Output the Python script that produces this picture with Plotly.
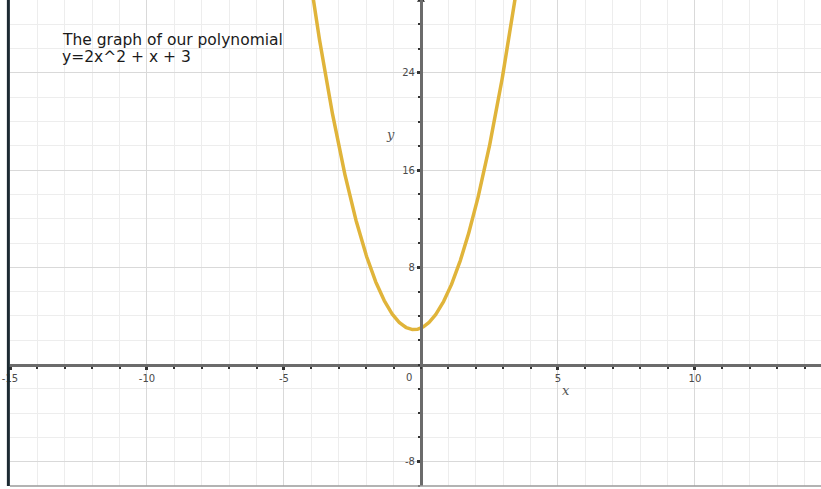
import numpy as np
import plotly.graph_objects as go

# Polynomial y = 2x^2 + x + 3, coefficients from highest power down
coefficients = [2, 1, 3]

x_range = [-15.0, 14.6]
y_range = [-10.0, 30.0]

x_tick_values = [-15, -10, -5, 5, 10]
x_tick_labels = ["-15", "-10", "-5", "5", "10"]
y_tick_values = [-8, 8, 16, 24]
y_tick_labels = ["-8", "8", "16", "24"]

title_lines = ["The graph of our polynomial", "y=2x^2 + x + 3"]

# Sample the curve only where it stays inside the visible range
xs = np.linspace(-4.2, 3.7, 600)
ys = np.polyval(coefficients, xs)

curve_color = "#E0B43A"
axis_color = "#6b6b6b"
label_color = "#4a4a4a"

fig = go.Figure()
fig.add_trace(go.Scatter(
    x=xs, y=ys, mode="lines",
    line=dict(color=curve_color, width=3.5),
    hoverinfo="skip", showlegend=False,
))

# Arrow head at the top of the y axis
fig.add_trace(go.Scatter(
    x=[0], y=[y_range[1]], mode="markers",
    marker=dict(symbol="triangle-up", size=7, color="#222222"),
    cliponaxis=False, hoverinfo="skip", showlegend=False,
))

x_pos = (0 - y_range[0]) / (y_range[1] - y_range[0])
y_pos = (0 - x_range[0]) / (x_range[1] - x_range[0])

fig.update_layout(
    width=821, height=489,
    margin=dict(l=10, r=0, t=0, b=3),
    paper_bgcolor="white", plot_bgcolor="white",
    font=dict(family="DejaVu Sans", color=label_color, size=10),
    xaxis=dict(
        range=x_range, anchor="free", position=x_pos,
        tickvals=x_tick_values, ticktext=x_tick_labels,
        showgrid=True, gridcolor="#d9d9d9", gridwidth=1,
        zeroline=False,
        showline=True, linecolor=axis_color, linewidth=3,
        ticks="outside", ticklen=3, tickwidth=3, tickcolor="#333333",
        tickfont=dict(size=10, color=label_color),
        minor=dict(dtick=1, tick0=0, showgrid=True, gridcolor="#ededed",
                   ticks="outside", ticklen=2, tickwidth=2, tickcolor="#333333"),
        fixedrange=True,
    ),
    yaxis=dict(
        range=y_range, anchor="free", position=y_pos,
        tickvals=y_tick_values, ticktext=y_tick_labels,
        showgrid=True, gridcolor="#d9d9d9", gridwidth=1,
        zeroline=False,
        showline=True, linecolor=axis_color, linewidth=3,
        ticks="outside", ticklen=3, tickwidth=3, tickcolor="#333333",
        tickfont=dict(size=10, color=label_color),
        minor=dict(dtick=2, tick0=0, showgrid=True, gridcolor="#ededed",
                   ticks="outside", ticklen=2, tickwidth=2, tickcolor="#333333"),
        fixedrange=True,
    ),
    shapes=[
        # dark frame on the left, grey rule along the bottom
        dict(type="line", xref="paper", yref="paper", x0=-0.002, x1=-0.002,
             y0=0, y1=1, line=dict(color="#1c2a32", width=3)),
        dict(type="line", xref="paper", yref="paper", x0=0, x1=1,
             y0=0, y1=0, line=dict(color="#9a9a9a", width=1.5)),
    ],
    annotations=[
        dict(text=title_lines[0], xref="paper", yref="paper",
             x=0.0612, y=1 - 40 / 486, xanchor="left", yanchor="middle",
             showarrow=False,
             font=dict(family="DejaVu Sans", size=15.5, color="#1a1a1a")),
        dict(text=title_lines[1], xref="paper", yref="paper",
             x=0.0612, y=1 - 57 / 486, xanchor="left", yanchor="middle",
             showarrow=False,
             font=dict(family="DejaVu Sans", size=15.5, color="#1a1a1a")),
        dict(text="0", xref="x", yref="y", x=-0.45, y=-1.1,
             showarrow=False, font=dict(size=10, color=label_color)),
        dict(text="<i>x</i>", xref="x", yref="y", x=5.3, y=-2.1, showarrow=False,
             font=dict(family="DejaVu Serif", size=13, color="#555555")),
        dict(text="<i>y</i>", xref="x", yref="y", x=-1.1, y=18.9, showarrow=False,
             font=dict(family="DejaVu Serif", size=13, color="#555555")),
    ],
)

fig.write_html("out.html")
